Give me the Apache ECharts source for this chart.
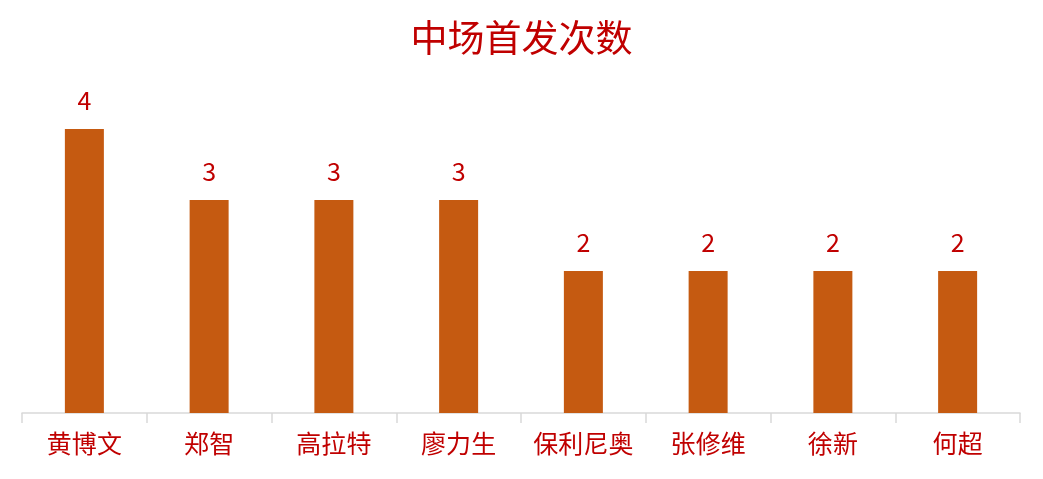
<!DOCTYPE html>
<html><head><meta charset="utf-8">
<script src="https://cdn.jsdelivr.net/npm/echarts@6/dist/echarts.min.js"></script>
<style>html,body{margin:0;padding:0;background:#fff}#c{width:1043px;height:479px}</style>
</head><body><div id="c"></div>
<script>
const categories = ['黄博文','郑智','高拉特','廖力生','保利尼奥','张修维','徐新','何超'];
const values = [4,3,3,3,2,2,2,2];
const font = '"Microsoft YaHei","Noto Sans CJK SC",sans-serif';
const chart = echarts.init(document.getElementById('c'));
chart.setOption({
  animation:false,
  title:{text:'中场首发次数',left:'center',top:14,textStyle:{color:'#C00000',fontSize:37,fontWeight:'normal',fontFamily:font}},
  grid:{left:22,right:23,top:129,bottom:66},
  xAxis:{type:'category',data:categories,boundaryGap:true,
    axisLine:{show:true,lineStyle:{color:'#D9D9D9',width:1.5}},
    axisTick:{show:true,alignWithLabel:false,interval:0,length:10,lineStyle:{color:'#D9D9D9',width:1.5}},
    axisLabel:{color:'#C00000',fontSize:25,margin:18,interval:0,fontFamily:font}},
  yAxis:{type:'value',min:0,max:4,show:false,splitLine:{show:false}},
  series:[{type:'bar',data:values,barWidth:39,itemStyle:{color:'#C55A11'},
    label:{show:true,position:'top',distance:16,color:'#C00000',fontSize:25,fontFamily:font}}]
});
</script></body></html>
